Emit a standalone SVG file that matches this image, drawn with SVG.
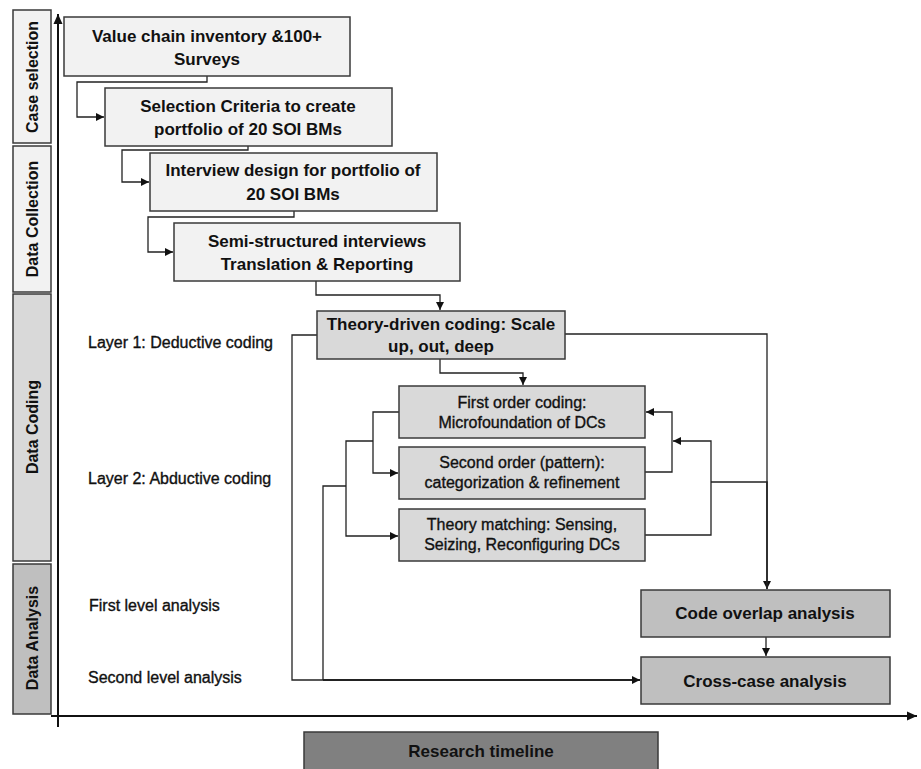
<svg xmlns="http://www.w3.org/2000/svg" width="921" height="769" viewBox="0 0 921 769">
<style>
.box{stroke:#3a3a3a;stroke-width:1.5}
.l1{fill:#f2f2f2}.l2{fill:#d9d9d9}.l3{fill:#bfbfbf}
.t{font-family:"Liberation Sans",Arial,sans-serif;font-weight:bold;font-size:17px;fill:#111;text-anchor:middle}
.s{font-family:"Liberation Sans",Arial,sans-serif;font-size:16px;fill:#111;stroke:#111;stroke-width:0.35;text-anchor:middle}
.lab{font-family:"Liberation Sans",Arial,sans-serif;font-size:16px;fill:#111;stroke:#111;stroke-width:0.35}
.side{font-family:"Liberation Sans",Arial,sans-serif;font-weight:bold;font-size:16px;fill:#111;text-anchor:middle}
.c{fill:none;stroke:#222;stroke-width:1.3}
.ax{fill:none;stroke:#111;stroke-width:2}
</style>
<defs>
<marker id="ar" markerUnits="userSpaceOnUse" markerWidth="9" markerHeight="9" refX="8" refY="4.5" orient="auto">
<path d="M0,0.5 L8,4.5 L0,8.5 Z" fill="#111"/>
</marker>
<marker id="arb" markerUnits="userSpaceOnUse" markerWidth="12" markerHeight="12" refX="10" refY="5.5" orient="auto">
<path d="M0,1 L10,5.5 L0,10 Z" fill="#111"/>
</marker>
</defs>

<g id="phase-case-selection">
<rect class="box l1" x="13" y="10" width="38" height="133"/>
<text class="side" transform="translate(38,77) rotate(-90)">Case selection</text>
</g>
<g id="phase-data-collection">
<rect class="box l1" x="13" y="146" width="38" height="146"/>
<text class="side" transform="translate(38,219) rotate(-90)">Data Collection</text>
</g>
<g id="phase-data-coding">
<rect class="box l2" x="13" y="294" width="38" height="267"/>
<text class="side" transform="translate(38,427) rotate(-90)">Data Coding</text>
</g>
<g id="phase-data-analysis">
<rect class="box l3" x="13" y="564" width="38" height="150"/>
<text class="side" transform="translate(38,638) rotate(-90)">Data Analysis</text>
</g>

<g id="axes">
<path class="ax" d="M58,727 V14" marker-end="url(#arb)"/>
<path class="ax" d="M51,716 H917" marker-end="url(#arb)"/>
</g>

<g id="labels">
<text class="lab" x="88" y="348">Layer 1: Deductive coding</text>
<text class="lab" x="88" y="484">Layer 2: Abductive coding</text>
<text class="lab" x="89" y="611">First level analysis</text>
<text class="lab" x="88" y="683">Second level analysis</text>
</g>

<g id="connectors">
<path class="c" d="M207,76 V82 H77 V117 H104" marker-end="url(#ar)"/>
<path class="c" d="M248,146 V150 H122 V182 H149" marker-end="url(#ar)"/>
<path class="c" d="M294,211 V217 H148 V252 H173" marker-end="url(#ar)"/>
<path class="c" d="M316,281 V295 H440 V310" marker-end="url(#ar)"/>
<path class="c" d="M440,359 V373 H523 V385" marker-end="url(#ar)"/>
<path class="c" d="M399,412 H373 V473 H398" marker-end="url(#ar)"/>
<path class="c" d="M373,441 H346 V536 H398" marker-end="url(#ar)"/>
<path class="c" d="M346,486 H323 V680"/>
<path class="c" d="M317,335 H292 V680 H323"/>
<path class="c" d="M323,680 H640" style="stroke-width:1.8" marker-end="url(#ar)"/>
<path class="c" d="M565,334 H767 V589" marker-end="url(#ar)"/>
<path class="c" d="M645,472 H672 V412 H646" marker-end="url(#ar)"/>
<path class="c" d="M645,535 H711 V441 H673" marker-end="url(#ar)"/>
<path class="c" d="M711,482 H767 V589" style="stroke-width:1.6"/>
<path class="c" d="M766,637 V656" marker-end="url(#ar)"/>
</g>

<g id="node-value-chain">
<rect class="box l1" x="64" y="17" width="286" height="59"/>
<text class="t" x="207" y="42">Value chain inventory &amp;100+</text>
<text class="t" x="207" y="65">Surveys</text>
</g>
<g id="node-selection-criteria">
<rect class="box l1" x="105" y="88" width="287" height="58"/>
<text class="t" x="248" y="112">Selection Criteria to create</text>
<text class="t" x="248" y="135">portfolio of 20 SOI BMs</text>
</g>
<g id="node-interview-design">
<rect class="box l1" x="150" y="153" width="287" height="58"/>
<text class="t" x="293" y="176">Interview design for portfolio of</text>
<text class="t" x="293" y="200">20 SOI BMs</text>
</g>
<g id="node-semi-structured">
<rect class="box l1" x="174" y="223" width="286" height="58"/>
<text class="t" x="317" y="247">Semi-structured interviews</text>
<text class="t" x="317" y="270">Translation &amp; Reporting</text>
</g>
<g id="node-theory-driven">
<rect class="box l2" x="317" y="311" width="248" height="48"/>
<text class="t" x="441" y="330">Theory-driven coding: Scale</text>
<text class="t" x="441" y="352">up, out, deep</text>
</g>
<g id="node-first-order">
<rect class="box l2" x="399" y="386" width="246" height="52"/>
<text class="s" x="522" y="408">First order coding:</text>
<text class="s" x="522" y="428">Microfoundation of DCs</text>
</g>
<g id="node-second-order">
<rect class="box l2" x="399" y="447" width="246" height="52"/>
<text class="s" x="522" y="468">Second order (pattern):</text>
<text class="s" x="522" y="488">categorization &amp; refinement</text>
</g>
<g id="node-theory-matching">
<rect class="box l2" x="399" y="509" width="246" height="52"/>
<text class="s" x="522" y="530">Theory matching: Sensing,</text>
<text class="s" x="522" y="550">Seizing, Reconfiguring DCs</text>
</g>
<g id="node-code-overlap">
<rect class="box l3" x="641" y="590" width="249" height="47"/>
<text class="t" x="765" y="619">Code overlap analysis</text>
</g>
<g id="node-cross-case">
<rect class="box l3" x="641" y="657" width="249" height="47"/>
<text class="t" x="765" y="687">Cross-case analysis</text>
</g>
<g id="node-research-timeline">
<rect x="304" y="732" width="354" height="40" fill="#808080" stroke="#3a3a3a" stroke-width="1.5"/>
<text class="t" x="481" y="757">Research timeline</text>
</g>
</svg>
